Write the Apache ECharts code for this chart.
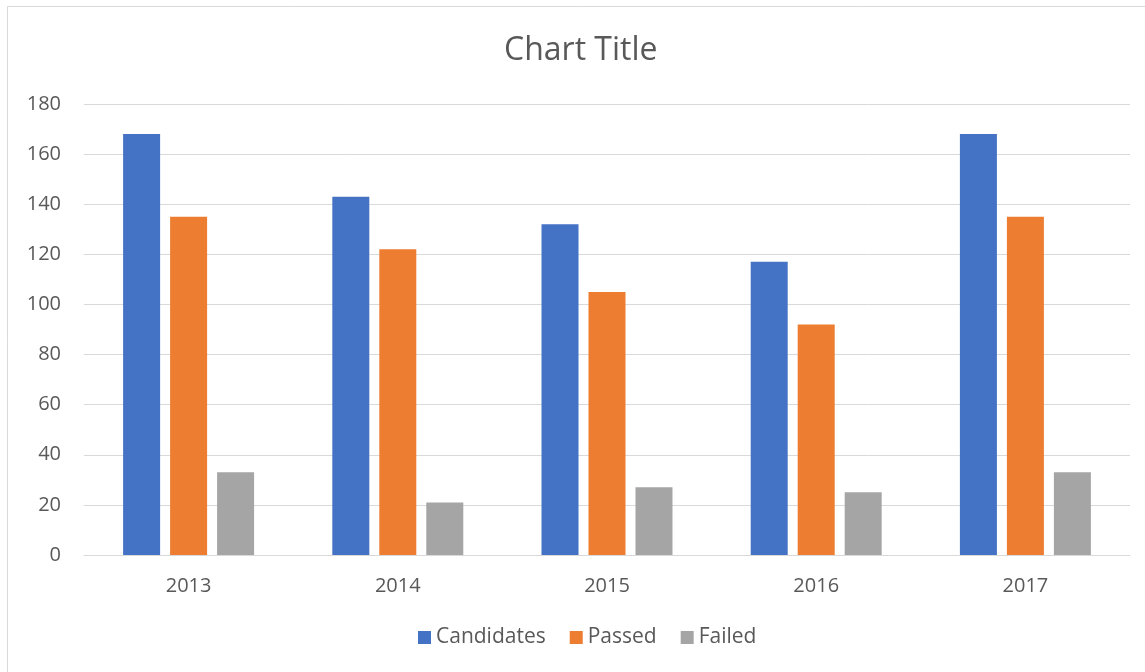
<!DOCTYPE html>
<html><head><meta charset="utf-8">
<script src="https://cdn.jsdelivr.net/npm/echarts@6/dist/echarts.min.js"></script>
<style>html,body{margin:0;padding:0;background:#fff}#c{width:1145px;height:672px}</style>
</head><body><div id="c"></div>
<script>
const categories = ['2013','2014','2015','2016','2017'];
const candidates = [168,143,132,117,168];
const passed = [135,122,105,92,135];
const failed = [33,21,27,25,33];
const yTicks = {min:0, max:180, interval:20};

const font = 'Open Sans';
const txt = '#595959';
const chart = echarts.init(document.getElementById('c'));
chart.setOption({
  animation:false,
  backgroundColor:'#fff',
  graphic:[{type:'rect',shape:{x:7.5,y:6.5,width:1200,height:700},style:{fill:'none',stroke:'#d9d9d9',lineWidth:1},silent:true}],
  title:{text:'Chart Title',left:499,top:30,textStyle:{fontFamily:font,fontSize:32,fontWeight:'normal',color:txt}},
  grid:{left:84,right:15,top:104,bottom:117},
  legend:{bottom:19,left:413,itemWidth:13,itemHeight:13,itemGap:24,icon:'rect',
    textStyle:{fontFamily:font,fontSize:21,color:txt},data:['Candidates','Passed','Failed']},
  xAxis:{type:'category',data:categories,
    axisLine:{lineStyle:{color:'#d9d9d9',width:1}},axisTick:{show:false},
    axisLabel:{fontFamily:font,fontSize:20,color:txt,margin:21}},
  yAxis:{type:'value',min:yTicks.min,max:yTicks.max,interval:yTicks.interval,
    axisLine:{show:false},axisTick:{show:false},
    splitLine:{lineStyle:{color:'#d9d9d9',width:1}},
    axisLabel:{fontFamily:font,fontSize:20,color:txt,margin:23}},
  series:[
    {name:'Candidates',type:'bar',data:candidates,barWidth:37,barGap:'27%',itemStyle:{color:'#4472C4'}},
    {name:'Passed',type:'bar',data:passed,barWidth:37,barGap:'27%',itemStyle:{color:'#ED7D31'}},
    {name:'Failed',type:'bar',data:failed,barWidth:37,barGap:'27%',itemStyle:{color:'#A5A5A5'}}
  ]
});
</script></body></html>
